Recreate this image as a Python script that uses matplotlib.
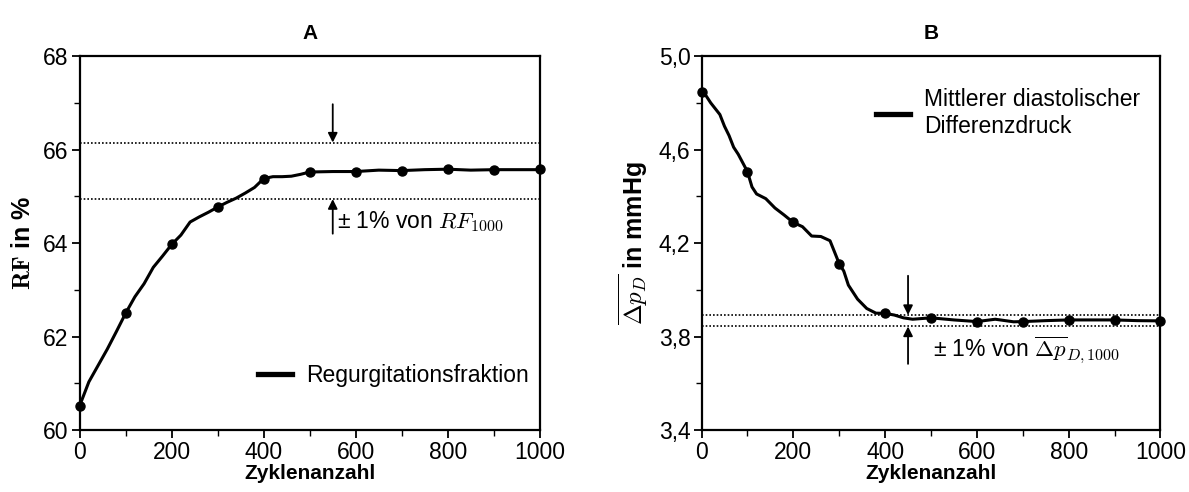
import matplotlib
matplotlib.use("Agg")
import matplotlib.pyplot as plt
from matplotlib.ticker import MultipleLocator, FixedLocator, FuncFormatter

plt.rcParams['font.family'] = ['Liberation Sans', 'DejaVu Sans']
plt.rcParams['mathtext.fontset'] = 'cm'

# Panel A data
rf_x = [0, 20, 40, 60, 80, 100, 120, 140, 160, 180, 200, 220, 240, 260, 280, 300,
        320, 340, 360, 380, 400, 420, 440, 460, 480, 500, 550, 600, 650, 700, 750,
        800, 850, 900, 950, 1000]
rf_y = [60.52, 61.03, 61.38, 61.73, 62.11, 62.50, 62.85, 63.13, 63.48, 63.72, 63.97,
        64.17, 64.45, 64.56, 64.66, 64.77, 64.87, 64.96, 65.07, 65.19, 65.38, 65.42,
        65.42, 65.43, 65.47, 65.52, 65.53, 65.53, 65.56, 65.55, 65.57, 65.58, 65.56,
        65.57, 65.57, 65.57]
rf_mark_x = [0, 100, 200, 300, 400, 500, 600, 700, 800, 900, 1000]
rf_mark_y = [60.52, 62.50, 63.97, 64.77, 65.38, 65.52, 65.53, 65.55, 65.58, 65.57, 65.58]
rf_band = [66.15, 64.94]

# Panel B data
dp_x = [0, 10, 20, 40, 50, 60, 70, 80, 100, 110, 120, 140, 160, 180, 200, 220, 240,
        260, 280, 300, 310, 320, 340, 360, 380, 400, 420, 440, 460, 480, 500, 550,
        600, 640, 680, 700, 750, 800, 850, 900, 950, 1000]
dp_y = [4.848, 4.83, 4.80, 4.75, 4.70, 4.66, 4.61, 4.58, 4.506, 4.44, 4.41, 4.39,
        4.35, 4.32, 4.288, 4.27, 4.23, 4.228, 4.21, 4.112, 4.08, 4.02, 3.96, 3.92,
        3.90, 3.899, 3.892, 3.88, 3.874, 3.877, 3.880, 3.871, 3.864, 3.874, 3.863,
        3.864, 3.868, 3.871, 3.871, 3.871, 3.868, 3.867]
dp_mark_x = [0, 100, 200, 300, 400, 500, 600, 700, 800, 900, 1000]
dp_mark_y = [4.848, 4.506, 4.288, 4.112, 3.899, 3.880, 3.864, 3.864, 3.871, 3.871, 3.867]
dp_band = [3.892, 3.843]
dp_ticks = [3.4, 3.8, 4.2, 4.6, 5.0]
dp_minor = [3.6, 4.0, 4.4, 4.8]

fig = plt.figure(figsize=(11.89, 4.92), dpi=100)
axA = fig.add_axes([0.067, 0.126, 0.387, 0.760])
axB = fig.add_axes([0.590, 0.126, 0.386, 0.760])

FS = 16.5
YFS = 18

def style(ax):
    for s in ax.spines.values():
        s.set_linewidth(1.6)
    ax.tick_params(which='major', direction='out', length=6, width=1.3, labelsize=FS, pad=2)
    ax.tick_params(which='minor', direction='out', length=4, width=1.0)
    ax.set_xlim(0, 1000)
    ax.xaxis.set_major_locator(MultipleLocator(200))
    ax.xaxis.set_minor_locator(MultipleLocator(100))
    ax.set_xlabel('Zyklenanzahl', fontsize=15, fontweight='bold', labelpad=0)

arrow_kw = dict(arrowstyle='-|>', color='black', lw=1.3, mutation_scale=14,
                shrinkA=0, shrinkB=0)

# Panel A
axA.plot(rf_x, rf_y, color='black', lw=2.2, label='Regurgitationsfraktion')
axA.plot(rf_mark_x, rf_mark_y, 'o', color='black', ms=6.5, clip_on=False)
for v in rf_band:
    axA.axhline(v, color='black', ls=(0, (1, 1.2)), lw=1.2)
axA.set_ylim(60, 68)
axA.yaxis.set_major_locator(MultipleLocator(2))
axA.yaxis.set_minor_locator(MultipleLocator(1))
style(axA)
axA.set_ylabel(r'$\mathbf{RF}$ in %', fontsize=YFS, fontweight='bold', labelpad=6)
axA.set_title('A', fontsize=15, fontweight='bold', pad=12)
axA.annotate('', xy=(550, rf_band[0]), xytext=(550, 66.97), arrowprops=arrow_kw)
axA.annotate('', xy=(550, rf_band[1]), xytext=(550, 64.2), arrowprops=arrow_kw)
axA.text(560, 64.45, r'± 1% von $RF_{1000}$', fontsize=FS, va='center', ha='left')
legA = axA.legend(loc='lower right', frameon=False, fontsize=FS, handlelength=1.5,
                  handletextpad=0.6, bbox_to_anchor=(1.02, 0.06))
for l in legA.get_lines():
    l.set_linewidth(3.8)

# Panel B
axB.plot(dp_x, dp_y, color='black', lw=2.2,
         label='Mittlerer diastolischer\nDifferenzdruck')
axB.plot(dp_mark_x, dp_mark_y, 'o', color='black', ms=6.5, clip_on=False)
for v in dp_band:
    axB.axhline(v, color='black', ls=(0, (1, 1.2)), lw=1.2)
axB.set_ylim(3.4, 5.0)
axB.yaxis.set_major_locator(FixedLocator(dp_ticks))
axB.yaxis.set_minor_locator(FixedLocator(dp_minor))
axB.yaxis.set_major_formatter(FuncFormatter(lambda v, p: f'{v:.1f}'.replace('.', ',')))
style(axB)
axB.set_ylabel(r'$\overline{\Delta p_D}$ in mmHg', fontsize=YFS, fontweight='bold', labelpad=6)
axB.set_title('B', fontsize=15, fontweight='bold', pad=12)
axB.annotate('', xy=(450, dp_band[0]), xytext=(450, 4.06), arrowprops=arrow_kw)
axB.annotate('', xy=(450, dp_band[1]), xytext=(450, 3.683), arrowprops=arrow_kw)
axB.text(505, 3.74, r'± 1% von $\overline{\Delta p}_{D,1000}$', fontsize=FS,
         va='center', ha='left')
legB = axB.legend(loc='upper right', frameon=False, fontsize=FS, handlelength=1.5,
                  handletextpad=0.6, labelspacing=0.2, bbox_to_anchor=(1.0, 0.97))
for l in legB.get_lines():
    l.set_linewidth(3.8)

fig.savefig('out.png', dpi=100)
